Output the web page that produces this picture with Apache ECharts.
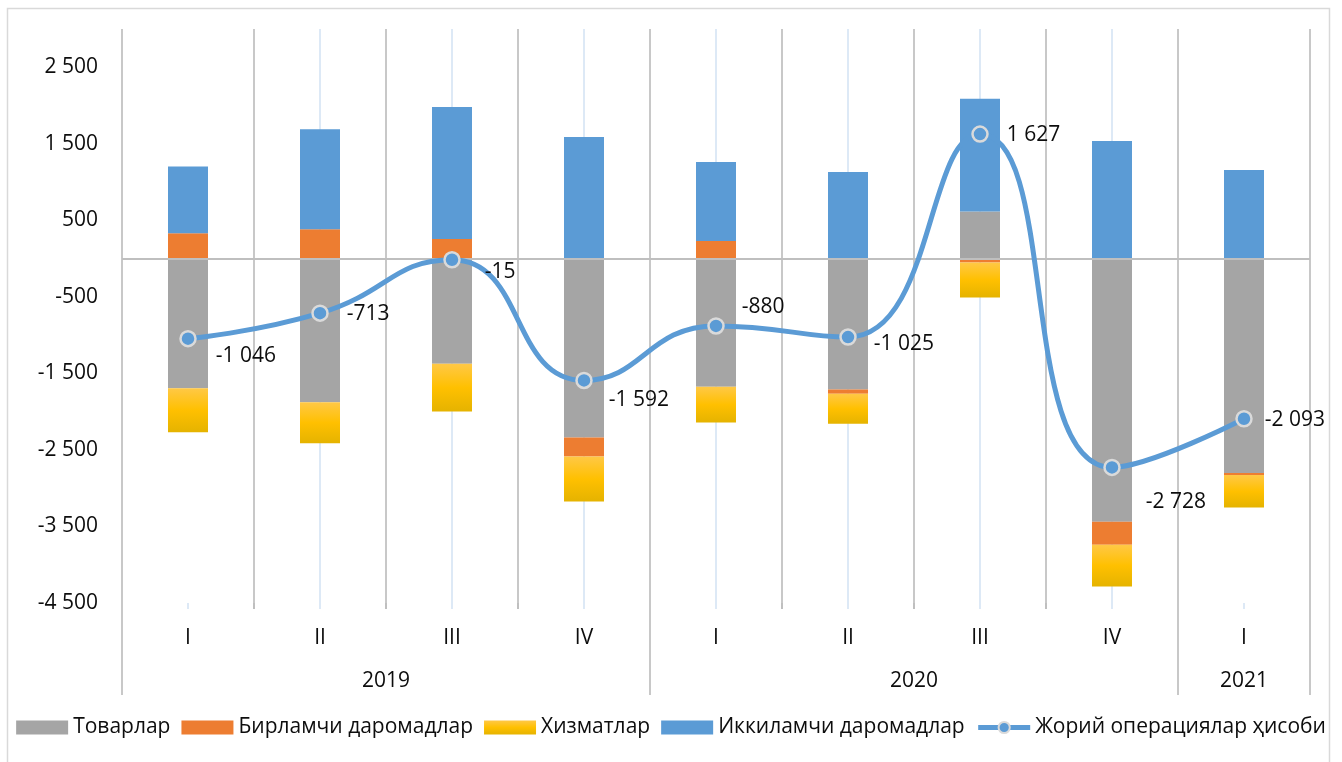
<!DOCTYPE html>
<html>
<head>
<meta charset="utf-8">
<script src="https://cdn.jsdelivr.net/npm/echarts@6/dist/echarts.min.js"></script>
<style>
  html, body { margin: 0; padding: 0; background: #fff; }
  #chart { width: 1342px; height: 762px; }
</style>
</head>
<body>
<div id="chart"></div>
<script>
// quarters and years on the category axis
const quarters = ['I', 'II', 'III', 'IV', 'I', 'II', 'III', 'IV', 'I']
const years = ['2019', '2020', '2021']
const quartersPerYear = [4, 4, 1]

// series values
const goods = [-1694, -1877, -1375, -2338, -1676, -1711, 614, -3439, -2803]
const primaryIncome = [330, 383, 257, -248, 231, -56, -50, -300, -26]
const services = [-575, -535, -623, -588, -466, -392, -459, -545, -423]
const secondaryIncome = [875, 1306, 1724, 1589, 1032, 1132, 1476, 1537, 1158]
const currentAccount = [-1046, -713, -15, -1592, -880, -1025, 1627, -2728, -2093]

// where each point label sits, relative to the marker
const labelOffsets = [[14, 17], [13, 1], [19, 12], [11, 20], [12, -19], [12, 7], [13, 1], [20, 35], [7, 1]]

const font = 'Open Sans'
const textColor = '#0d0d0d'

const fmt = v => {
  const s = Math.abs(v).toString().replace(/\B(?=(\d{3})+(?!\d))/g, ' ')
  return (v < 0 ? '-' : '') + s
}

// year boundaries and middles on a 0..n scale
const yearBounds = [0]
quartersPerYear.forEach(n => yearBounds.push(yearBounds[yearBounds.length - 1] + n))
const yearMids = quartersPerYear.map((n, i) => yearBounds[i] + n / 2)
const quarterMids = quarters.map((q, i) => i)

const chart = echarts.init(document.getElementById('chart'))

const barStyle = (color) => ({
  type: 'bar',
  stack: 'total',
  barWidth: 40,
  itemStyle: { color }
})

const yellow = {
  type: 'linear', x: 0, y: 0, x2: 0, y2: 1,
  colorStops: [
    { offset: 0, color: '#ffc846' },
    { offset: 0.5, color: '#ffc000' },
    { offset: 1, color: '#e5b300' }
  ]
}

chart.setOption({
  animation: false,
  textStyle: { fontFamily: font },
  graphic: [{
    type: 'rect',
    shape: { x: 7.5, y: 8.5, width: 1322, height: 800 },
    style: { fill: 'none', stroke: '#d9d9d9', lineWidth: 1.5 },
    silent: true
  }],
  grid: { left: 122, right: 32, top: 29, bottom: 159 },
  legend: {
    bottom: 19,
    left: 'center',
    itemWidth: 52,
    itemHeight: 14,
    itemGap: 11,
    textStyle: { fontSize: 21, color: textColor, fontFamily: font },
    data: [
      { name: 'Товарлар', icon: 'rect' },
      { name: 'Бирламчи даромадлар', icon: 'rect' },
      { name: 'Хизматлар', icon: 'rect' },
      { name: 'Иккиламчи даромадлар', icon: 'rect' },
      { name: 'Жорий операциялар ҳисоби', lineStyle: { width: 5 } }
    ]
  },
  xAxis: [
    {
      type: 'category',
      data: quarters,
      position: 'bottom',
      axisLine: { show: false, onZero: false },
      axisTick: { show: true, interval: 0, length: 6, lineStyle: { color: '#bfbfbf', width: 2 } },
      splitLine: { show: true, interval: 0, lineStyle: { color: '#c8c8c8', width: 2 } },
      axisLabel: { interval: 0, margin: 25, fontSize: 21, color: textColor, fontFamily: font }
    },
    {
      // light centre lines of each quarter
      type: 'value',
      min: -0.5,
      max: quarters.length - 0.5,
      interval: 1,
      position: 'bottom',
      axisLine: { show: false, onZero: false },
      axisTick: { show: true, customValues: quarterMids, length: 6, lineStyle: { color: '#dde9f6', width: 2 } },
      axisLabel: { show: false },
      splitLine: { show: true, showMinLine: false, showMaxLine: false, lineStyle: { color: '#dde9f6', width: 2 } }
    },
    {
      // year row
      type: 'value',
      min: 0,
      max: quarters.length,
      position: 'bottom',
      axisLine: { show: false, onZero: false },
      axisTick: { show: true, customValues: yearBounds, length: 92, lineStyle: { color: '#c8c8c8', width: 2 } },
      axisLabel: {
        customValues: yearMids,
        formatter: v => years[yearMids.indexOf(v)] || '',
        margin: 68, fontSize: 21, color: textColor, fontFamily: font
      },
      splitLine: { show: false }
    }
  ],
  yAxis: {
    type: 'value',
    min: -4500,
    max: 3000,
    interval: 500,
    axisLine: { show: false },
    axisTick: { show: false },
    splitLine: { show: false },
    axisLabel: {
      margin: 24,
      fontSize: 21,
      color: textColor,
      fontFamily: font,
      formatter: v => (Math.abs(v) % 1000 === 500 && v < 3000) ? fmt(v) : ''
    }
  },
  series: [
    { name: 'Товарлар', ...barStyle('#a5a5a5'), data: goods },
    { name: 'Бирламчи даромадлар', ...barStyle('#ed7d31'), data: primaryIncome },
    { name: 'Хизматлар', ...barStyle(yellow), data: services },
    {
      name: 'Иккиламчи даромадлар', ...barStyle('#5b9bd5'), data: secondaryIncome,
      markLine: {
        silent: true,
        symbol: 'none',
        label: { show: false },
        lineStyle: { color: '#bfbfbf', width: 2, type: 'solid' },
        data: [{ yAxis: 0 }]
      }
    },
    {
      name: 'Жорий операциялар ҳисоби',
      type: 'line',
      smooth: 0.5,
      z: 5,
      symbol: 'circle',
      symbolSize: 15,
      lineStyle: { color: '#5b9bd5', width: 5 },
      itemStyle: { color: '#5b9bd5', borderColor: '#dadada', borderWidth: 2.5 },
      data: currentAccount.map((v, i) => ({
        value: v,
        label: { offset: labelOffsets[i] }
      })),
      label: {
        show: true,
        position: 'right',
        distance: 5,
        fontSize: 21,
        color: textColor,
        fontFamily: font,
        formatter: p => fmt(p.value)
      }
    }
  ]
})
</script>
</body>
</html>
